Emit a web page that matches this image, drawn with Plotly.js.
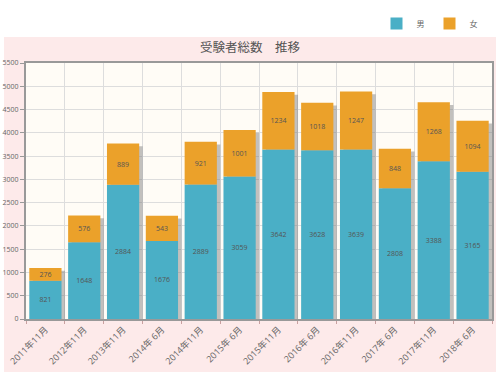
<!DOCTYPE html>
<html><head><meta charset="utf-8">
<script src="https://cdn.plot.ly/plotly-3.0.1.min.js"></script>
<style>html,body{margin:0;padding:0;background:#fff}#chart{width:500px;height:372px}</style>
</head><body><div id="chart"></div>
<script>
const categories = ['2011年11月','2012年11月','2013年11月','2014年 6月','2014年11月','2015年 6月','2015年11月','2016年 6月','2016年11月','2017年 6月','2017年11月','2018年 6月'];
const men = [821,1648,2884,1676,2889,3059,3642,3628,3639,2808,3388,3165];
const women = [276,576,889,543,921,1001,1234,1018,1247,848,1268,1094];
const seriesNames = ['男','女'];
const chartTitle = '受験者総数　推移';

const totals = men.map((m,i)=>m+women[i]);
const W = 0.83;
const font = 'Open Sans, Noto Sans CJK JP, sans-serif';

const shadow = {
  type:'bar', x:categories, y:totals.map(t=>t-60), base:0,
  width:W, offset:-W/2+0.09,
  marker:{color:'rgba(120,120,120,0.45)', line:{width:0}},
  showlegend:false, hoverinfo:'skip'
};
const tMen = {
  type:'bar', name:seriesNames[0], x:categories, y:men, base:0,
  width:W, offset:-W/2,
  marker:{color:'#4aafc6', line:{width:0}},
  text:men.map(String), textposition:'inside', insidetextanchor:'middle', textangle:0,
  textfont:{size:7, color:'#555', family:font}
};
const tWomen = {
  type:'bar', name:seriesNames[1], x:categories, y:women, base:men,
  width:W, offset:-W/2,
  marker:{color:'#eba12a', line:{width:0}},
  text:women.map(String), textposition:'inside', insidetextanchor:'middle', textangle:0,
  textfont:{size:7, color:'#555', family:font}
};

const L=26, R=8, T=63, B=53, PH=372-T-B, PW=500-L-R;
const layout = {
  width:500, height:372,
  margin:{l:L, r:R, t:T, b:B, pad:0},
  paper_bgcolor:'#ffffff', plot_bgcolor:'rgba(0,0,0,0)',
  barmode:'overlay',
  uniformtext:{minsize:7, mode:'show'},
  font:{family:font, color:'#666'},
  title:{text:chartTitle, font:{size:12.5, color:'#555', family:font}, x:0.5, xref:'container', y:1-48/372, yref:'container', yanchor:'middle'},
  legend:{orientation:'h', x:0.965, xanchor:'right', xref:'container', y:1-9/372, yref:'container', yanchor:'top', font:{size:8, color:'#666'}, itemwidth:30, traceorder:'normal', bgcolor:'rgba(0,0,0,0)'},
  shapes:[
    {type:'rect', layer:'below', xref:'paper', yref:'paper', x0:(4-L)/PW, x1:(496-L)/PW, y0:-B/PH-0.01, y1:(372-B-37)/PH, fillcolor:'#fdeaea', line:{width:0}},
    {type:'rect', layer:'below', xref:'paper', yref:'paper', x0:0, x1:1, y0:0, y1:1, fillcolor:'#fffcf6', line:{width:0}}
  ],
  xaxis:{
    type:'category', tickson:'boundaries', ticks:'outside', ticklen:3, tickcolor:'#c9a0a0',
    showgrid:true, gridcolor:'#dddddd', gridwidth:1,
    showline:true, linecolor:'#999', linewidth:2, mirror:true,
    tickangle:-45, tickfont:{size:9, color:'#666'}, range:[-0.5, 11.5]
  },
  yaxis:{
    range:[0,5500], dtick:500, tick0:0, ticks:'outside', ticklen:4, tickcolor:'#999',
    showgrid:true, gridcolor:'#dddddd', gridwidth:1, zeroline:false,
    showline:true, linecolor:'#999', linewidth:2, mirror:true,
    tickfont:{size:7, color:'#666'}
  }
};
Plotly.newPlot('chart',[shadow,tMen,tWomen],layout,{displayModeBar:false, staticPlot:true});
</script></body></html>
